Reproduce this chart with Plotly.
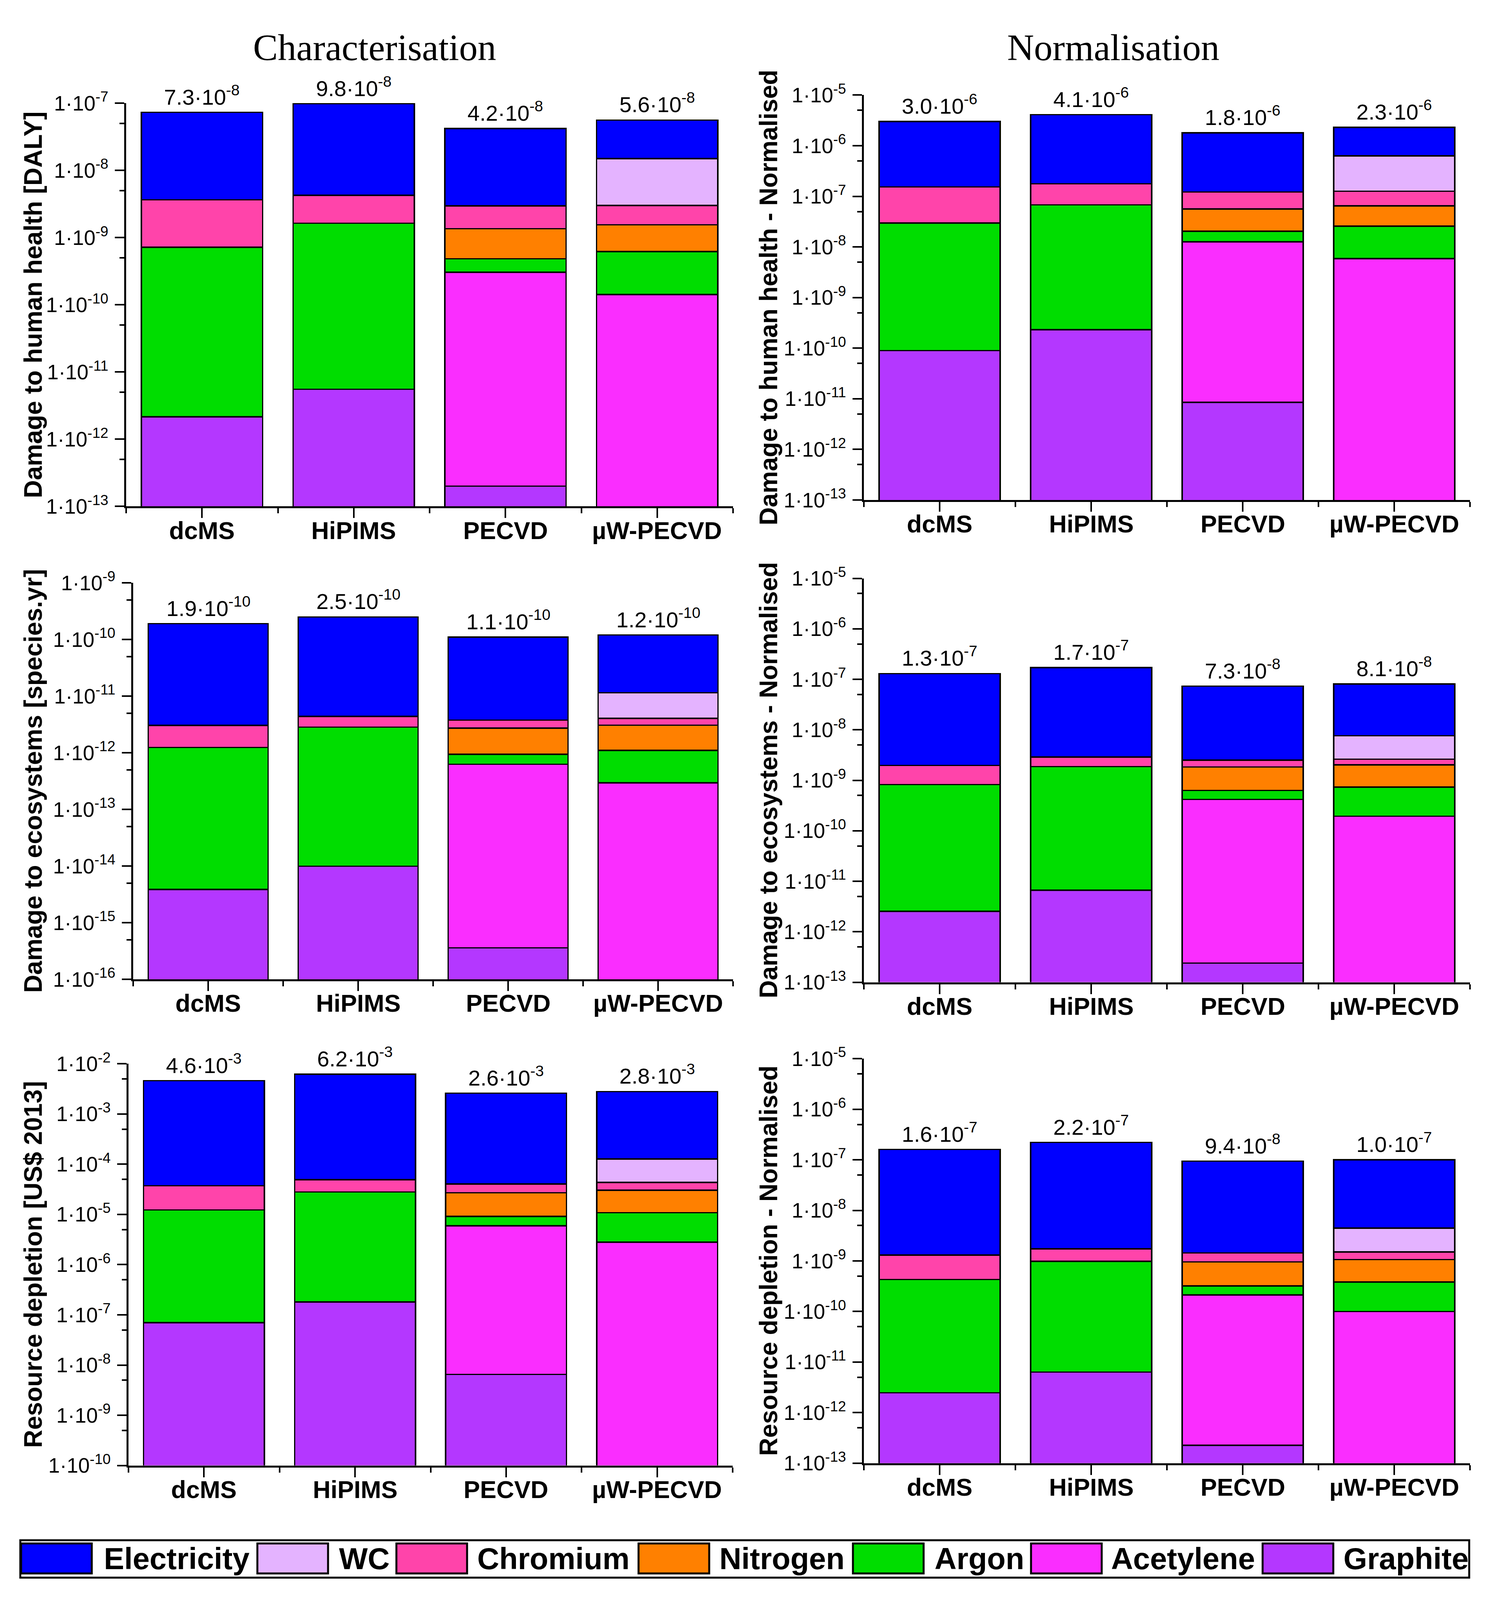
import numpy as np
import plotly.graph_objects as go

# ---------------- data ----------------
processes = ["dcMS", "HiPIMS", "PECVD", "µW-PECVD"]
# stack order, bottom -> top
components = ["Graphite", "Acetylene", "Argon", "Nitrogen", "Chromium", "WC", "Electricity"]
legend_order = ["Electricity", "WC", "Chromium", "Nitrogen", "Argon", "Acetylene", "Graphite"]
colors = {
    "Electricity": "#0000FF",
    "WC": "#E4B3FF",
    "Chromium": "#FF44AA",
    "Nitrogen": "#FF8000",
    "Argon": "#00DD00",
    "Acetylene": "#FA2DFF",
    "Graphite": "#B437FF",
}

# cumulative top of each segment (stack order above), one row per process; None = component absent
health_char = [
    [2.16e-12, None, 7.2e-10, None, 3.66e-9, None, 7.3e-8],
    [5.55e-12, None, 1.64e-9, None, 4.25e-9, None, 9.8e-8],
    [2.0e-13, 3.05e-10, 4.84e-10, 1.36e-9, 2.96e-9, None, 4.2e-8],
    [None, 1.42e-10, 6.18e-10, 1.55e-9, 3.0e-9, 1.5e-8, 5.6e-8],
]
health_norm = [
    [8.97e-11, None, 2.97e-8, None, 1.54e-7, None, 3.0e-6],
    [2.31e-10, None, 6.76e-8, None, 1.77e-7, None, 4.1e-6],
    [8.5e-12, 1.26e-8, 2.05e-8, 5.61e-8, 1.22e-7, None, 1.8e-6],
    [None, 5.9e-9, 2.58e-8, 6.46e-8, 1.26e-7, 6.33e-7, 2.3e-6],
]
eco_char = [
    [3.86e-15, None, 1.24e-12, None, 3.05e-12, None, 1.9e-10],
    [9.9e-15, None, 2.83e-12, None, 4.38e-12, None, 2.5e-10],
    [3.6e-16, 6.27e-13, 9.37e-13, 2.72e-12, 3.77e-12, None, 1.1e-10],
    [None, 2.96e-13, 1.10e-12, 3.08e-12, 4.06e-12, 1.15e-11, 1.2e-10],
]
eco_norm = [
    [2.55e-12, None, 8.2e-10, None, 1.97e-9, None, 1.3e-7],
    [6.65e-12, None, 1.86e-9, None, 2.88e-9, None, 1.7e-7],
    [2.4e-13, 4.18e-10, 6.28e-10, 1.83e-9, 2.5e-9, None, 7.3e-8],
    [None, 1.95e-10, 7.33e-10, 2.02e-9, 2.61e-9, 7.6e-9, 8.1e-8],
]
res_char = [
    [6.97e-8, None, 1.23e-5, None, 3.71e-5, None, 4.6e-3],
    [1.8e-7, None, 2.79e-5, None, 4.92e-5, None, 6.2e-3],
    [6.53e-9, 5.96e-6, 9.12e-6, 2.71e-5, 4.03e-5, None, 2.6e-3],
    [None, 2.81e-6, 1.08e-5, 3.04e-5, 4.34e-5, 1.27e-4, 2.8e-3],
]
res_norm = [
    [2.47e-12, None, 4.3e-10, None, 1.31e-9, None, 1.6e-7],
    [6.34e-12, None, 9.86e-10, None, 1.73e-9, None, 2.2e-7],
    [2.26e-13, 2.13e-10, 3.2e-10, 9.6e-10, 1.44e-9, None, 9.4e-8],
    [None, 9.95e-11, 3.84e-10, 1.06e-9, 1.5e-9, 4.44e-9, 1.0e-7],
]

y_titles = [
    "Damage to human health [DALY]", "Damage to human health - Normalised",
    "Damage to ecosystems [species.yr]", "Damage to ecosystems - Normalised",
    "Resource depletion [US$ 2013]", "Resource depletion - Normalised",
]
y_ranges = [(-13, -7), (-13, -5), (-16, -9), (-13, -5), (-10, -2), (-13, -5)]
col_titles = ["Characterisation", "Normalisation"]

# ---------------- layout geometry (reference pixels -> paper fractions) ----------------
W, H = 3805, 4881
def px(x):
    return x / W
def py(y):
    return 1 - y / H

# (left, right) of each plot area, in reference pixels
x_px = [(323, 1877), (2212, 3764), (341, 1877), (2212, 3764), (329, 1876), (2212, 3764)]
# (top, bottom) of each plot area, in reference pixels
y_px = [(274, 1525), (249, 1505), (1762, 2992), (1748, 3001), (3254, 4500), (3238, 4493)]
ytitle_x = [px(85), px(1968)]

SANS = "Liberation Sans, Arial, sans-serif"
SERIF = "Palatino Linotype, Book Antiqua, Liberation Serif, serif"

panels = [health_char, health_norm, eco_char, eco_norm, res_char, res_norm]

fig = go.Figure()
annotations = []
shapes = []

def sci_label(v, lead=None):
    e = int(np.floor(np.log10(v) + 1e-9))
    m = v / 10 ** e
    mant = f"{m:.1f}" if lead is None else lead
    return f"{mant}·10<sup>{e}</sup>"

xpos = list(range(len(processes)))

for i, tops in enumerate(panels):
    n = i + 1
    xa = "x" if n == 1 else f"x{n}"
    ya = "y" if n == 1 else f"y{n}"
    col = i % 2
    prev = [0.0] * len(processes)
    for c, comp in enumerate(components):
        vals = []
        for p in range(len(processes)):
            t = tops[p][c]
            if t is None:
                vals.append(None)
            else:
                vals.append(t - prev[p])
                prev[p] = t
        fig.add_trace(go.Bar(
            x=xpos, y=vals, xaxis=xa, yaxis=ya, width=0.8, name=comp,
            marker=dict(color=colors[comp], line=dict(color="black", width=3.5)),
            showlegend=False, hoverinfo="skip",
        ))
    # totals above bars
    for p in range(len(processes)):
        total = tops[p][-1]
        annotations.append(dict(
            x=xpos[p], y=np.log10(total), xref=xa, yref=ya,
            text=sci_label(total), showarrow=False, yanchor="bottom", yshift=6,
            font=dict(family=SANS, size=56, color="black"),
        ))
    # category labels below the axis
    top_px, bot_px = y_px[i]
    for p in range(len(processes)):
        annotations.append(dict(
            x=xpos[p], y=py(bot_px + 74), xref=xa, yref="paper",
            text=processes[p], showarrow=False, xanchor="center", yanchor="middle",
            font=dict(family=SANS, size=63, color="black", weight="bold"),
        ))
    lo, hi = y_ranges[i]
    axis_y = dict(
        type="log", range=[lo, hi], domain=[py(bot_px), py(top_px)], anchor=xa,
        tickmode="array",
        tickvals=[10.0 ** k for k in range(lo, hi + 1)],
        ticktext=[sci_label(10.0 ** k, lead="1") for k in range(lo, hi + 1)],
        ticks="outside", ticklen=24, tickwidth=4, tickcolor="black",
        showline=True, linecolor="black", linewidth=5, showgrid=False, zeroline=False,
        tickfont=dict(family=SANS, size=53, color="black"),
        ticklabelstandoff=6,
        minor=dict(tickmode="array", tickvals=[5 * 10.0 ** k for k in range(lo, hi)],
                   ticks="outside", ticklen=12, tickwidth=4, tickcolor="black", showgrid=False),
    )
    axis_x = dict(
        range=[-0.5, len(processes) - 0.5], domain=[px(x_px[i][0]), px(x_px[i][1])], anchor=ya,
        tickmode="array", tickvals=xpos, showticklabels=False,
        ticks="outside", ticklen=25, tickwidth=4, tickcolor="black",
        showline=True, linecolor="black", linewidth=5, showgrid=False, zeroline=False,
        minor=dict(tickmode="array", tickvals=[k - 0.5 for k in range(len(processes) + 1)],
                   ticks="outside", ticklen=13, tickwidth=4, tickcolor="black", showgrid=False),
    )
    fig.layout[("xaxis" if n == 1 else f"xaxis{n}")] = axis_x
    fig.layout[("yaxis" if n == 1 else f"yaxis{n}")] = axis_y
    # y axis title
    annotations.append(dict(
        x=ytitle_x[col], y=py((top_px + bot_px) / 2), xref="paper", yref="paper",
        text=y_titles[i], textangle=-90, showarrow=False, xanchor="center", yanchor="middle",
        font=dict(family=SANS, size=64, color="black", weight="bold"),
    ))

# column titles
for col, t in enumerate(col_titles):
    annotations.append(dict(
        x=[px(959), px(2851)][col], y=py(102), xref="paper", yref="paper", text=t,
        showarrow=False, xanchor="center", yanchor="middle",
        font=dict(family=SERIF, size=95, color="black"),
    ))

# legend (drawn manually to reproduce the wide swatches)
shapes.append(dict(type="rect", xref="paper", yref="paper",
                   x0=px(52), x1=px(3762), y0=py(4848), y1=py(4732),
                   line=dict(color="black", width=5), fillcolor="white", layer="below"))
sw_x = [54, 659, 1015, 1635, 2184, 2640, 3233]
tx_x = [264, 866, 1220, 1840, 2391, 2843, 3438]
for k, comp in enumerate(legend_order):
    shapes.append(dict(type="rect", xref="paper", yref="paper",
                       x0=px(sw_x[k]), x1=px(sw_x[k] + 181), y0=py(4835), y1=py(4742),
                       line=dict(color="black", width=5), fillcolor=colors[comp]))
    annotations.append(dict(
        x=px(tx_x[k]), y=py(4789), xref="paper", yref="paper", text=comp,
        showarrow=False, xanchor="left", yanchor="middle",
        font=dict(family=SANS, size=78, color="black", weight="bold"),
    ))

fig.update_layout(
    width=W, height=H, margin=dict(l=0, r=0, t=0, b=0),
    paper_bgcolor="white", plot_bgcolor="white",
    barmode="stack", bargap=0.2,
    annotations=annotations, shapes=shapes,
    showlegend=False,
)

# fit the figure to the actual browser viewport so nothing falls below the fold
fit_js = (
    "document.documentElement.style.margin='0';"
    "document.body.style.margin='0';"
    "document.body.style.overflow='hidden';"
    "var gd=document.getElementById('{plot_id}');"
    "var w=window.innerWidth, h=window.innerHeight;"
    "if(w>0 && h>0 && (w!==%d || h!==%d)){Plotly.relayout(gd,{width:w,height:h});}" % (W, H)
)

fig.write_html("out.html", config={"displayModeBar": False}, post_script=fit_js)
